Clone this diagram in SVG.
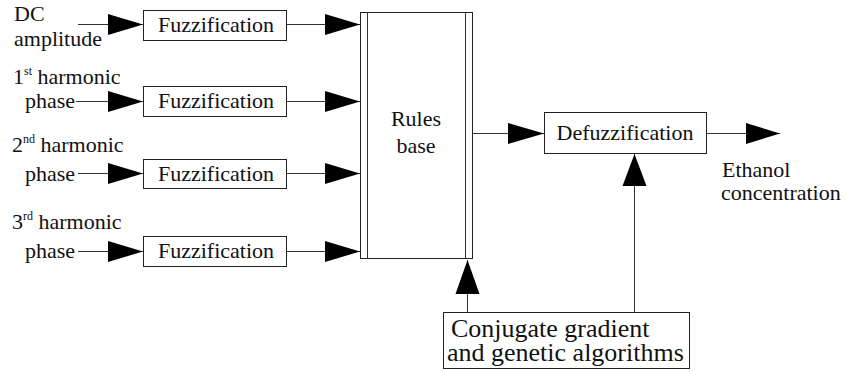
<svg xmlns="http://www.w3.org/2000/svg" width="846" height="372" viewBox="0 0 846 372" font-family="'Liberation Serif', 'Times New Roman', 'DejaVu Serif', serif">
<style>
text{font-family:'Liberation Serif','Times New Roman','DejaVu Serif',serif;fill:#111;font-size:22px}
.box{fill:#fff;stroke:#222;stroke-width:1}
.ln{stroke:#333;stroke-width:1;fill:none}
.ah{fill:#000;stroke:none}
.sup{font-size:12px}
.big{font-size:26px}
</style>
<rect width="846" height="372" fill="#fff"/>
<g id="labels">
<text x="14" y="21">DC</text>
<text x="14" y="46">amplitude</text>
<text x="13" y="84">1<tspan class="sup" dy="-9">st</tspan><tspan dy="9"> harmonic</tspan></text>
<text x="25" y="108">phase</text>
<text x="12" y="152">2<tspan class="sup" dy="-9">nd</tspan><tspan dy="9"> harmonic</tspan></text>
<text x="25" y="181">phase</text>
<text x="12" y="229">3<tspan class="sup" dy="-9">rd</tspan><tspan dy="9"> harmonic</tspan></text>
<text x="25" y="258">phase</text>
<text x="722" y="177">Ethanol</text>
<text x="721" y="200">concentration</text>
</g>
<g id="fuzz1"><rect class="box" x="143.5" y="10.5" width="143" height="30"/><text x="216" y="32" text-anchor="middle">Fuzzification</text></g>
<g id="fuzz2"><rect class="box" x="143.5" y="86.5" width="143" height="30"/><text x="216" y="108" text-anchor="middle">Fuzzification</text></g>
<g id="fuzz3"><rect class="box" x="143.5" y="159.5" width="143" height="29"/><text x="216" y="181" text-anchor="middle">Fuzzification</text></g>
<g id="fuzz4"><rect class="box" x="143.5" y="236.5" width="143" height="30"/><text x="216" y="258" text-anchor="middle">Fuzzification</text></g>
<g id="rules">
<rect class="box" x="360.5" y="12.5" width="112" height="246"/>
<line class="ln" x1="367.5" y1="12.5" x2="367.5" y2="258.5"/>
<line class="ln" x1="465.5" y1="12.5" x2="465.5" y2="258.5"/>
<text x="416" y="126" text-anchor="middle">Rules</text>
<text x="416" y="153" text-anchor="middle">base</text>
</g>
<g id="defuzz"><rect class="box" x="544.5" y="112.5" width="162" height="41"/><text x="625" y="140" text-anchor="middle">Defuzzification</text></g>
<g id="conj"><rect class="box" x="443.5" y="312.5" width="246" height="56"/>
<text class="big" x="451" y="337">Conjugate gradient</text>
<text class="big" x="447" y="361">and genetic algorithms</text></g>
<g id="connectors">
<path class="ln" d="M78 24.5H143M76 101.5H143M78 173.5H143M78 251.5H143"/>
<path class="ah" d="M108 14L143 24.5L108 35Z M108 91L143 101.5L108 112Z M108 163L143 173.5L108 184Z M108 241L143 251.5L108 262Z"/>
<path class="ln" d="M286 24.5H360M286 101.5H360M286 173.5H360M286 251.5H360"/>
<path class="ah" d="M325 14L360 24.5L325 35Z M325 91L360 101.5L325 112Z M325 163L360 173.5L325 184Z M325 241L360 251.5L325 262Z"/>
<path class="ln" d="M472 133.5H544"/>
<path class="ah" d="M508 123L544 133.5L508 144Z"/>
<path class="ln" d="M706 133.5H780"/>
<path class="ah" d="M746 123L780 133.5L746 144Z"/>
<path class="ln" d="M467.5 312V260"/>
<path class="ah" d="M455.5 294L467.5 260L479.5 294Z"/>
<path class="ln" d="M634.5 312V154"/>
<path class="ah" d="M622.5 186L634.5 154L646.5 186Z"/>
</g>
</svg>
